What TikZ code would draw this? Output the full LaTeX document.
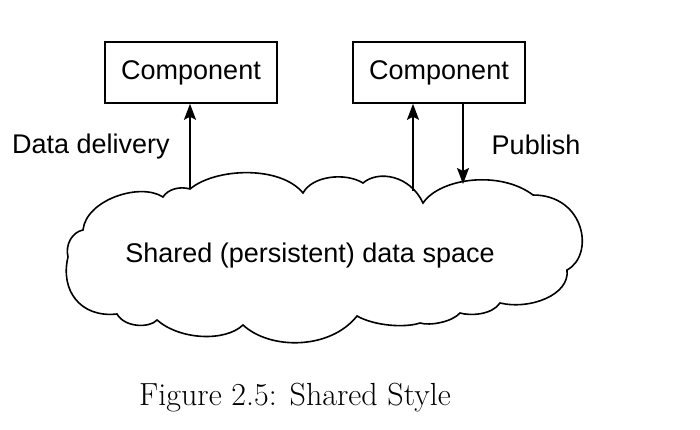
\documentclass[tikz,border=0pt]{standalone}
\usepackage{fontspec}
\setsansfont{Liberation Sans}
\usetikzlibrary{arrows.meta,positioning,calc}

\begin{document}
\begin{tikzpicture}[x=0.5pt,y=-0.5pt,line width=0.8pt,
        comp/.style={draw,minimum width=86pt,minimum height=30.5pt,inner sep=0pt,
                     font=\sffamily\fontsize{13.5}{16}\selectfont},
        lbl/.style={font=\sffamily\fontsize{13.5}{16}\selectfont,inner sep=0pt},
        flow/.style={-{Stealth[length=8pt,width=6pt,inset=1.5pt]}}]
        \useasboundingbox (0,0) rectangle (700,429);
        % the two components
        \node[comp] (c1) at (191,72.5) {Component};
        \node[comp] (c2) at (439,72.5) {Component};
        % shared data space
        \draw (83,230) .. controls (86,200) and (140,182) .. (163,197)
                .. controls (168,189) and (180,186) .. (190,189)
                .. controls (215,168) and (280,165) .. (303,193)
                .. controls (312,176) and (345,172) .. (363,183)
                .. controls (378,170) and (410,175) .. (423,203)
                .. controls (440,178) and (500,170) .. (533,195)
                .. controls (585,195) and (595,255) .. (567,270)
                .. controls (570,295) and (530,310) .. (500,303)
                .. controls (492,315) and (470,316) .. (460,313)
                .. controls (452,322) and (430,326) .. (420,323)
                .. controls (405,328) and (375,326) .. (357,316)
                .. controls (330,350) and (270,350) .. (243,325)
                .. controls (225,342) and (180,340) .. (157,320)
                .. controls (150,328) and (125,328) .. (117,314)
                .. controls (80,318) and (60,290) .. (68,257)
                .. controls (65,245) and (72,232) .. cycle;
        \node[lbl] (space) at (310,256) {Shared (persistent) data space};
        \coordinate (d1) at (190,189);
        \coordinate (d2) at (413,191);
        \coordinate (p2) at (463,184);
        % connectors
        \draw[flow] (d1) -- (c1.south -| d1);
        \draw[flow] (d2) -- (c2.south -| d2);
        \draw[flow] (c2.south -| p2) -- (p2);
        \node[lbl] (deliv) at (91,147) {Data delivery};
        \node[lbl] (pub) at (536,145) {Publish};
        % caption
        \node[inner sep=0pt,font=\fontsize{16}{19}\selectfont] (cap) at (295,398)
            {Figure 2.5: Shared Style};
\end{tikzpicture}
\end{document}
